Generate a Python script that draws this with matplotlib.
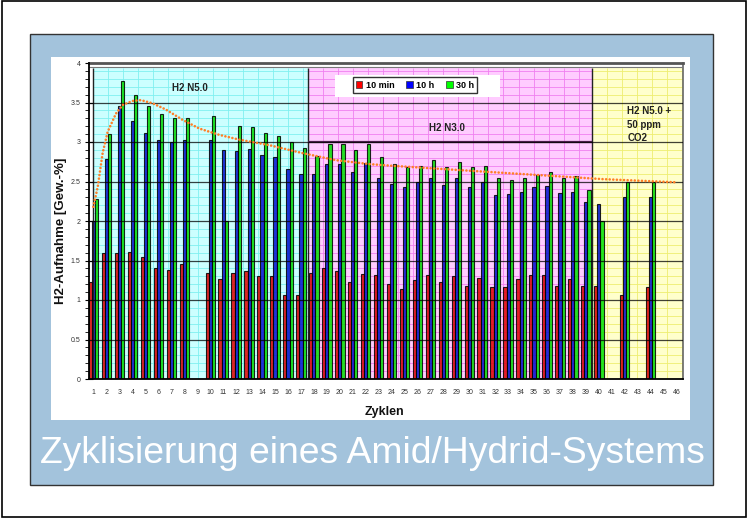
import matplotlib
matplotlib.use("Agg")
import matplotlib.pyplot as plt
from matplotlib.patches import Rectangle
import numpy as np

plt.rcParams['font.family'] = ['Liberation Sans', 'DejaVu Sans']

# Daten, None = keine Messung
cycles = np.arange(1, 47)
h2_10min = [1.23, 1.59, 1.59, 1.61, 1.54, 1.41, 1.38, 1.45, None, 1.34, 1.27, 1.34, 1.37, 1.30, 1.30, 1.06, 1.06,
            1.34, 1.41, 1.37, 1.23, 1.33, 1.32, 1.20, 1.14, 1.25, 1.32, 1.23, 1.30, 1.18, 1.28, 1.16, 1.16, 1.27, 1.32,
            1.32, 1.18, 1.27, 1.18, 1.18, None, 1.06, None, 1.16, None, None]
h2_10h = [2.00, 2.79, 3.45, 3.27, 3.12, 3.03, 3.00, 3.03, None, 3.03, 2.90, 2.88, 2.91, 2.84, 2.81, 2.66, 2.60,
          2.59, 2.72, 2.72, 2.62, 2.73, 2.55, 2.47, 2.43, 2.49, 2.54, 2.45, 2.54, 2.43, 2.49, 2.33, 2.34, 2.37, 2.43,
          2.44, 2.36, 2.37, 2.24, 2.21, None, 2.31, None, 2.31, None, None]
h2_30h = [2.28, 3.10, 3.77, 3.59, 3.45, 3.35, 3.30, 3.30, None, 3.33, 2.00, 3.20, 3.19, 3.12, 3.08, 3.00, 2.93,
          2.82, 2.97, 2.97, 2.90, 2.97, 2.81, 2.72, 2.68, 2.70, 2.77, 2.68, 2.75, 2.68, 2.70, 2.54, 2.52, 2.54, 2.58,
          2.62, 2.54, 2.57, 2.39, 2.00, None, 2.49, None, 2.49, None, None]

# Trendlinie
trend_x = [0.97, 1.31, 1.69, 2.08, 2.72, 3.24, 4.01, 4.65, 5.55, 6.58, 7.87, 9.16, 10.7, 12.24,
           14.56, 17.1, 19.7, 22.3, 23.96, 28.7, 35.5, 40.3, 45.96]
trend_y = [2.18, 2.43, 2.86, 3.13, 3.36, 3.47, 3.52, 3.53, 3.49, 3.41, 3.28, 3.17, 3.09, 3.03,
           2.96, 2.86, 2.77, 2.72, 2.70, 2.65, 2.58, 2.53, 2.49]

series_names = ['10 min', '10 h', '30 h']
series_colors = ['#E00000', '#0010D0', '#00E000']
legend_colors = ['#FF0000', '#0000FF', '#00FF00']

W, H = 748, 518
fig = plt.figure(figsize=(W / 100, H / 100), dpi=100)
fig.patch.set_facecolor('white')


def px(x0, y0, x1, y1):
    # Pixelrechteck -> Figurkoordinaten
    return x0 / W, 1 - y1 / H, (x1 - x0) / W, (y1 - y0) / H


# Rahmen der Folie
l, b, w, h = px(2, 1, 746, 517)
fig.add_artist(Rectangle((l, b), w, h, transform=fig.transFigure, fc='white', ec='black', lw=1.2, zorder=-3))
l, b, w, h = px(30, 34, 713, 485)
fig.add_artist(Rectangle((l, b), w, h, transform=fig.transFigure, fc='#A3C3DC', ec='#333333', lw=1.0, zorder=-2))
l, b, w, h = px(51, 57, 690, 420)
fig.add_artist(Rectangle((l, b), w, h, transform=fig.transFigure, fc='white', ec='none', zorder=-1))

l, b, w, h = px(89, 63, 683, 379)
ax = fig.add_axes([l, b, w, h])
ax.set_facecolor('white')
ax.set_xlim(0.637, 46.5)
ax.set_ylim(0, 4)

# farbige Bereiche mit feinem Raster
regions = [(0.95, 17.56, '#CCFFFF', '#80F0F0'),
           (17.56, 39.5, '#FFCCFF', '#F080F0'),
           (39.5, 46.5, '#FFFFCC', '#EEEE70')]
top = 3.94
for x0, x1, fc, gc in regions:
    ax.add_patch(Rectangle((x0, 0), x1 - x0, top, fc=fc, ec='none', zorder=0.5))
    ys = [v for v in np.arange(0.1, top, 0.1) if abs(v / 0.5 - round(v / 0.5)) > 0.01]
    ax.hlines(ys, x0, x1, colors=gc, lw=0.6, zorder=0.6)
    ax.vlines(np.arange(x0 + 1.16, x1, 1.16), 0, top, colors=gc, lw=0.6, zorder=0.6)
    ax.vlines([x0], 0, top, colors='#222222', lw=1.0, zorder=3)

ax.hlines([3.0], 17.56, 39.5, colors='#502050', lw=1.6, zorder=3)

# Balken
bw = 0.245
for k, (vals, col) in enumerate(zip([h2_10min, h2_10h, h2_30h], series_colors)):
    v = np.array([np.nan if q is None else q for q in vals], dtype=float)
    ax.bar(cycles + (k - 1) * bw, v, width=bw, color=col, alpha=0.85, edgecolor='black', linewidth=0.8,
           zorder=2)

# Hauptgitter
for yv in np.arange(0.5, 4.0, 0.5):
    ax.axhline(yv, xmin=0.0, xmax=1, color='black', alpha=0.75, lw=0.9, zorder=3)
ax.axhline(3.955, color='#777777', lw=0.8, zorder=3)

# Trend
ax.plot(trend_x, trend_y, color='#FF7F27', lw=1.9, linestyle=(0, (0.01, 1.35)), dash_capstyle='round',
        zorder=4)

# Legende
ax.add_patch(Rectangle((0.414, 0.892), 0.278, 0.070, transform=ax.transAxes, fc='white', ec='none',
                       zorder=3.5))
handles = [Rectangle((0, 0), 1, 1, fc=c, ec='#333333', lw=0.5) for c in legend_colors]
leg = ax.legend(handles, series_names, ncol=3, loc='center', bbox_to_anchor=(0.549, 0.930),
                fancybox=False, framealpha=1, edgecolor='#333333', handlelength=0.7, handleheight=0.7,
                handletextpad=0.4, columnspacing=1.3, borderpad=0.35,
                prop={'size': 6.5, 'weight': 'bold'})
leg.get_frame().set_linewidth(1.0)
leg.set_zorder(5)

# Beschriftungen der Bereiche
ax.text(8.44, 3.68, 'H2 N5.0', fontsize=7, fontweight='bold', color='#222222', ha='center', va='center',
        zorder=5)
ax.text(28.3, 3.18, 'H2 N3.0', fontsize=7, fontweight='bold', color='#222222', ha='center', va='center',
        zorder=5)
ax.text(42.2, 3.22, 'H2 N5.0 +\n50 ppm\nCO2', fontsize=7, fontweight='bold', color='#222222', ha='left',
        va='center', linespacing=1.45, zorder=5)

# Achsen
for s in ['left', 'bottom']:
    ax.spines[s].set_color('black')
    ax.spines[s].set_linewidth(1.3)
    ax.spines[s].set_zorder(6)
ax.spines['top'].set_color('#555555')
ax.spines['top'].set_linewidth(2.0)
ax.spines['right'].set_color('#666666')
ax.spines['right'].set_linewidth(1.2)

ax.set_xticks(cycles)
ax.set_xticklabels([str(c) for c in cycles])
ax.tick_params(axis='x', length=0, pad=7, labelsize=5, labelcolor='#333333')
ax.set_yticks(np.arange(0, 4.01, 0.5))
ax.set_yticklabels(['0', '0.5', '1', '1.5', '2', '2.5', '3', '3.5', '4'])
ax.set_yticks(np.arange(0, 4.01, 0.1), minor=True)
ax.tick_params(axis='y', which='major', direction='inout', length=6, width=0.8, pad=3, labelsize=5,
               labelcolor='#333333')
ax.tick_params(axis='y', which='minor', direction='out', length=3, width=0.6)

ax.set_ylabel('H2-Aufnahme [Gew.-%]', fontsize=9.5, fontweight='bold', color='#111111')
ax.yaxis.set_label_coords(-0.037, 0.47)
ax.set_xlabel('Zyklen', fontsize=9, fontweight='bold', color='#111111', va='top')
ax.xaxis.set_label_coords(0.498, -0.085)

fig.text(372.5 / W, 1 - 463 / H, 'Zyklisierung eines Amid/Hydrid-Systems', color='white', fontsize=26.8,
         ha='center', va='baseline')

fig.savefig('out.png', dpi=100)
